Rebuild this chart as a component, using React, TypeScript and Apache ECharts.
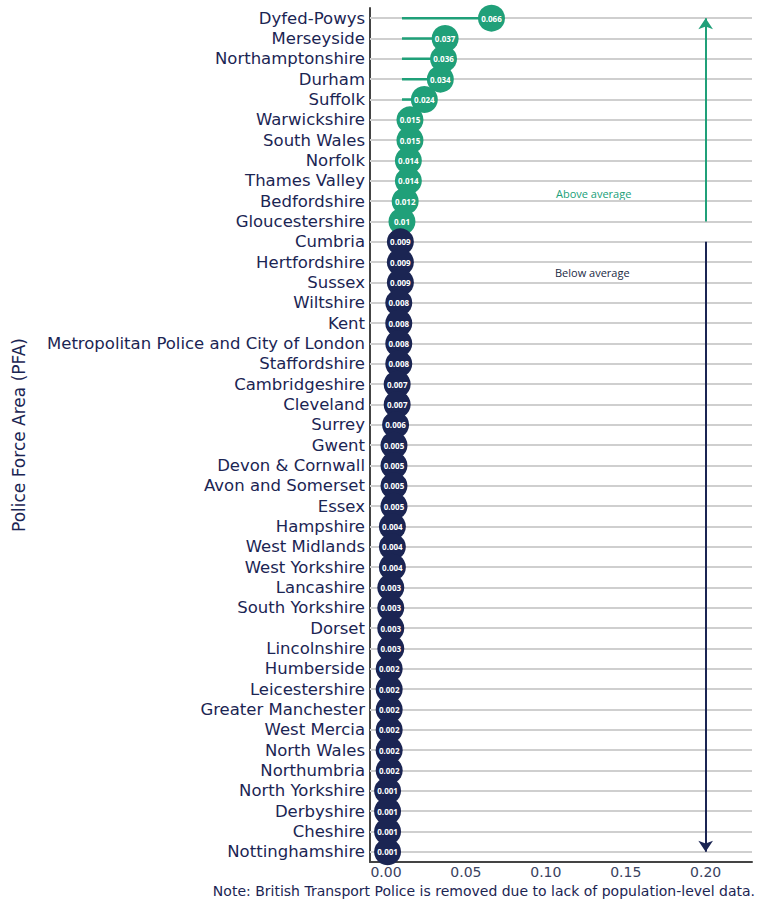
import React, { useEffect, useRef } from "react";
import * as echarts from "echarts";

const categories = [
  "Dyfed-Powys", "Merseyside", "Northamptonshire", "Durham", "Suffolk", "Warwickshire",
  "South Wales", "Norfolk", "Thames Valley", "Bedfordshire", "Gloucestershire", "Cumbria",
  "Hertfordshire", "Sussex", "Wiltshire", "Kent", "Metropolitan Police and City of London",
  "Staffordshire", "Cambridgeshire", "Cleveland", "Surrey", "Gwent", "Devon & Cornwall",
  "Avon and Somerset", "Essex", "Hampshire", "West Midlands", "West Yorkshire", "Lancashire",
  "South Yorkshire", "Dorset", "Lincolnshire", "Humberside", "Leicestershire",
  "Greater Manchester", "West Mercia", "North Wales", "Northumbria", "North Yorkshire",
  "Derbyshire", "Cheshire", "Nottinghamshire",
];
const values = [
  0.066, 0.037, 0.036, 0.034, 0.024, 0.015, 0.015, 0.014, 0.014, 0.012, 0.01, 0.009,
  0.009, 0.009, 0.008, 0.008, 0.008, 0.008, 0.007, 0.007, 0.006, 0.005, 0.005,
  0.005, 0.005, 0.004, 0.004, 0.004, 0.003, 0.003, 0.003, 0.003, 0.002, 0.002,
  0.002, 0.002, 0.002, 0.002, 0.001, 0.001, 0.001, 0.001,
];
const aboveCount = 11;
const average = 0.01;
const xTicks = [0, 0.05, 0.1, 0.15, 0.2];
const arrowX = 0.2;

const GREEN = "#20a079";
const NAVY = "#1b2553";
const FONT = "DejaVu Sans";

export default function App() {
  const ref = useRef<HTMLDivElement>(null);
  useEffect(() => {
    document.body.style.margin = "0";
    const chart = echarts.init(ref.current!, null, { renderer: "svg" });
    const scatterData = categories.map((c, i) => ({
      value: [values[i], c],
      itemStyle: { color: i < aboveCount ? GREEN : NAVY, opacity: 1 },
    }));
    const stemData = categories
      .map((c, i) => [values[i], i])
      .filter((d, i) => i < aboveCount);
    chart.setOption({
      animation: false,
      grid: { left: 370, right: 6, top: 8, bottom: 39, containLabel: false },
      xAxis: {
        type: "value",
        min: -0.01,
        max: 0.229,
        axisLine: { show: true, onZero: false, lineStyle: { color: "#444", width: 2 } },
        axisTick: { show: false },
        splitLine: { show: false },
        axisLabel: {
          customValues: xTicks,
          formatter: (v: number) => v.toFixed(2),
          color: "#3a4260",
          fontSize: 14,
          fontFamily: FONT,
          margin: 3,
        },
      },
      yAxis: {
        type: "category",
        data: categories,
        inverse: true,
        name: "Police Force Area (PFA)",
        nameLocation: "middle",
        nameGap: 343,
        nameTextStyle: { color: NAVY, fontSize: 17, fontFamily: FONT },
        axisLine: { show: true, onZero: false, lineStyle: { color: "#444", width: 2 } },
        axisTick: { show: false },
        axisLabel: { interval: 0, color: NAVY, fontSize: 16.5, fontFamily: FONT, margin: 5 },
        splitLine: { show: false },
      },
      series: [
        {
          type: "custom",
          z: 2,
          data: stemData,
          encode: { x: 0, y: 1 },
          renderItem: (params: any, api: any) => {
            const v = api.value(0);
            const c = api.value(1);
            const p1 = api.coord([average, c]);
            const p2 = api.coord([v, c]);
            return {
              type: "line",
              shape: { x1: p1[0], y1: p1[1], x2: p2[0], y2: p2[1] },
              style: { stroke: GREEN, lineWidth: 2.5 },
            };
          },
          markLine: {
            silent: true,
            symbol: "none",
            label: { show: false },
            lineStyle: { color: "#cfcfcf", width: 2, type: "solid" },
            data: categories.map((c) => ({ yAxis: c })),
            z: 1,
          },
        },
        {
          type: "scatter",
          z: 3,
          symbolSize: 27,
          data: scatterData,
          label: {
            show: true,
            position: "inside",
            color: "#fff",
            fontSize: 8,
            fontWeight: "bold",
            fontFamily: "Open Sans",
            formatter: (p: any) => String(p.value[0]),
          },
        },
        {
          type: "line",
          data: [],
          markLine: {
            silent: true,
            label: { show: false },
            symbol: ["none", "arrow"],
            symbolSize: 11,
            data: [
              [
                { coord: [arrowX, categories[aboveCount - 1]], lineStyle: { color: GREEN, width: 2, type: "solid" }, itemStyle: { color: GREEN } },
                { coord: [arrowX, categories[0]] },
              ],
              [
                { coord: [arrowX, categories[aboveCount]], lineStyle: { color: NAVY, width: 2, type: "solid" }, itemStyle: { color: NAVY } },
                { coord: [arrowX, categories[categories.length - 1]] },
              ],
            ],
          },
        },
      ],
      graphic: [
        {
          type: "text",
          x: 556,
          y: 188,
          style: { text: "Above average", fill: GREEN, fontSize: 11, fontFamily: "Open Sans" },
        },
        {
          type: "text",
          x: 555,
          y: 267,
          style: { text: "Below average", fill: "#222a44", fontSize: 11, fontFamily: "Open Sans" },
        },
        {
          type: "text",
          right: 3,
          y: 884,
          style: {
            text: "Note: British Transport Police is removed due to lack of population-level data.",
            fill: NAVY,
            fontSize: 14,
            fontFamily: FONT,
          },
        },
      ],
    });
    return () => chart.dispose();
  }, []);
  return <div ref={ref} style={{ width: 758, height: 901 }} />;
}
